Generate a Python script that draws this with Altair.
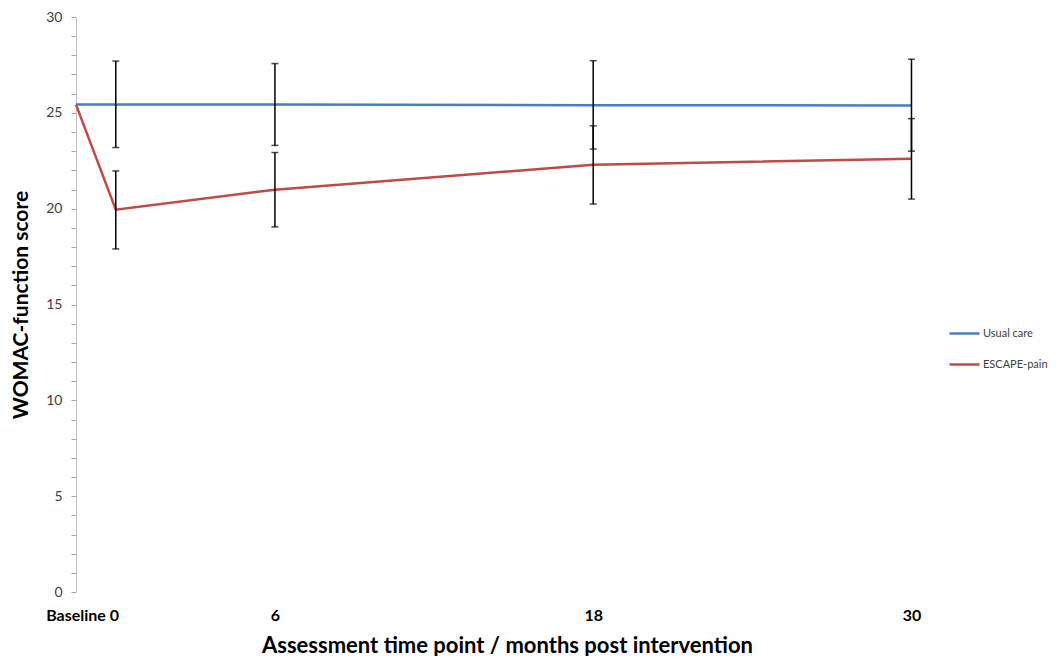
import altair as alt
import pandas as pd

months = [-1.5, 0, 6, 18, 30]
series_names = ["Usual care", "ESCAPE-pain"]
usual = [25.43, 25.43, 25.43, 25.40, 25.38]
usual_lo = [None, 23.19, 23.30, 23.11, 23.00]
usual_hi = [None, 27.70, 27.57, 27.72, 27.80]
escape = [25.43, 19.95, 20.99, 22.29, 22.60]
escape_lo = [None, 17.90, 19.05, 20.24, 20.50]
escape_hi = [None, 21.97, 22.93, 24.32, 24.70]

tick_positions = [-1.27, 6, 18, 30]
first_label = "Baseline 0"
y_ticks = list(range(31))

rows = []
for name, vals, los, his in [
    (series_names[0], usual, usual_lo, usual_hi),
    (series_names[1], escape, escape_lo, escape_hi),
]:
    for m, v, lo, hi in zip(months, vals, los, his):
        rows.append({"series": name, "month": m, "value": v, "lo": lo, "hi": hi})
df = pd.DataFrame(rows)
err = df.dropna(subset=["lo"])

FONT = "Lato"

x = alt.X(
    "month:Q",
    scale=alt.Scale(domain=[-1.5, 31], nice=False, zero=False),
    axis=alt.Axis(
        values=tick_positions,
        tickCount=len(tick_positions),
        labelExpr=f"datum.value < 0 ? '{first_label}' : datum.label",
        labelOverlap=False,
        domain=False,
        ticks=False,
        grid=False,
        labelFontWeight="bold",
        labelFontSize=16,
        labelColor="#000000",
        labelPadding=15,
        labelFont=FONT,
        title="Assessment time point / months post intervention",
        titleFontSize=22,
        titleFont=FONT,
        titleFontWeight="bold",
        titleColor="#000000",
        titlePadding=12,
    ),
)
y = alt.Y(
    "value:Q",
    scale=alt.Scale(domain=[0, 30], nice=False, zero=False),
    axis=alt.Axis(
        values=y_ticks,
        tickCount=len(y_ticks),
        labelExpr="datum.value % 5 == 0 ? datum.label : ''",
        labelOverlap=False,
        grid=False,
        domainColor="#BFBFBF",
        domainWidth=1,
        tickColor="#A6A6A6",
        tickSize=5,
        labelFontSize=14,
        labelColor="#404040",
        labelFont=FONT,
        labelPadding=9,
        title="WOMAC-function score",
        titleFontSize=21,
        titleFont=FONT,
        titleFontWeight="bold",
        titleColor="#000000",
        titlePadding=14,
    ),
)

color = alt.Color(
    "series:N",
    scale=alt.Scale(domain=series_names, range=["#4A7EBB", "#BE4B48"]),
    legend=alt.Legend(
        title=None,
        orient="none",
        legendX=872,
        legendY=300,
        symbolType="stroke",
        symbolSize=900,
        symbolStrokeWidth=2.5,
        labelFontSize=11,
        labelFont=FONT,
        labelColor="#404040",
        labelOffset=2,
        rowPadding=9,
        padding=0,
    ),
)

lines = alt.Chart(df).mark_line(strokeWidth=2.5).encode(
    x=x, y=y, color=color, order="month:Q"
)

bars = alt.Chart(err).mark_rule(color="#000000", strokeWidth=1.5).encode(
    x="month:Q", y="lo:Q", y2="hi:Q"
)
caps_lo = alt.Chart(err).mark_tick(
    color="#000000", orient="horizontal", size=7, thickness=1.5
).encode(x="month:Q", y="lo:Q")
caps_hi = alt.Chart(err).mark_tick(
    color="#000000", orient="horizontal", size=7, thickness=1.5
).encode(x="month:Q", y="hi:Q")

chart = (
    alt.layer(lines, bars, caps_lo, caps_hi)
    .properties(
        width=862,
        height=575,
        autosize=alt.AutoSizeParams(type="none"),
        padding={"left": 68, "top": 9, "right": 115, "bottom": 64},
        background="#FFFFFF",
    )
    .configure_view(stroke=None)
)

chart.save("out.html", embed_options={"renderer": "svg", "actions": False})
